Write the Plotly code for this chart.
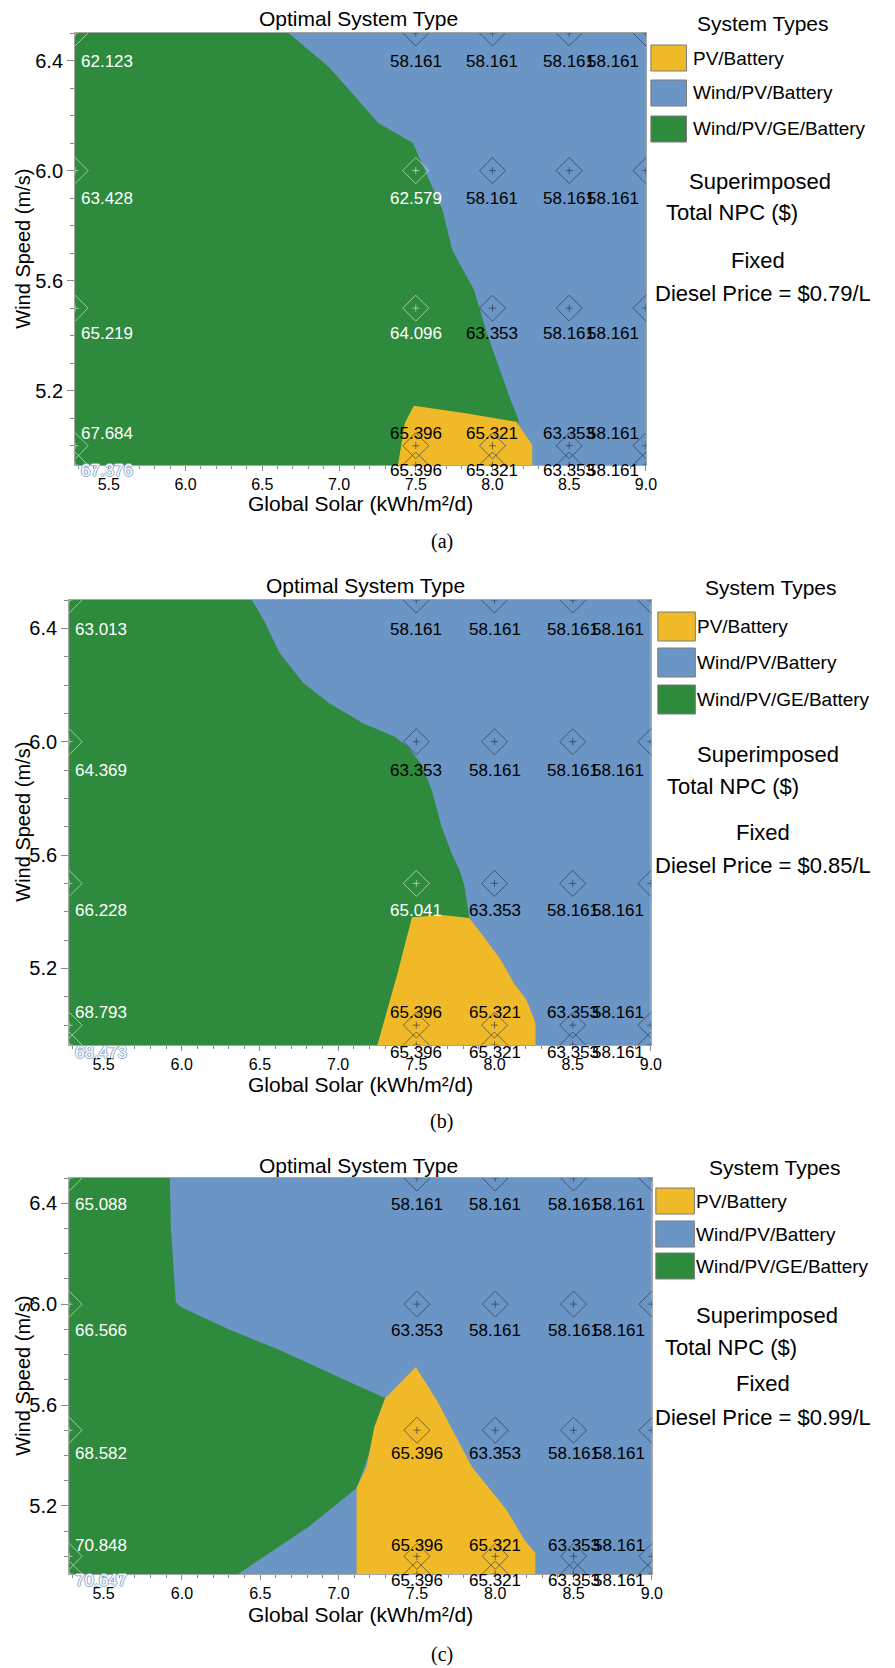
import plotly.graph_objects as go

W, H = 895, 1668

# ---------------- data ----------------
# sensitivity grid (columns: global solar, rows: wind speed)
solar = [5.28, 7.5, 8.0, 8.5, 9.0]
wind = [6.5, 6.0, 5.5, 5.0, 4.93]
solar_ticks = [5.5, 6.0, 6.5, 7.0, 7.5, 8.0, 8.5, 9.0]
wind_ticks = [5.2, 5.6, 6.0, 6.4]

system_types = ["PV/Battery", "Wind/PV/Battery", "Wind/PV/GE/Battery"]
system_colors = ["#F0B928", "#6A95C4", "#2E8A3C"]

diesel_prices = ["$0.79/L", "$0.85/L", "$0.99/L"]
captions = ["(a)", "(b)", "(c)"]

# superimposed total NPC at each grid point (rows follow `wind`, columns follow `solar`)
npc_a = [
    [62.123, 58.161, 58.161, 58.161, 58.161],
    [63.428, 62.579, 58.161, 58.161, 58.161],
    [65.219, 64.096, 63.353, 58.161, 58.161],
    [67.684, 65.396, 65.321, 63.353, 58.161],
    [67.376, 65.396, 65.321, 63.353, 58.161],
]
npc_b = [
    [63.013, 58.161, 58.161, 58.161, 58.161],
    [64.369, 63.353, 58.161, 58.161, 58.161],
    [66.228, 65.041, 63.353, 58.161, 58.161],
    [68.793, 65.396, 65.321, 63.353, 58.161],
    [68.473, 65.396, 65.321, 63.353, 58.161],
]
npc_c = [
    [65.088, 58.161, 58.161, 58.161, 58.161],
    [66.566, 63.353, 58.161, 58.161, 58.161],
    [68.582, 65.396, 63.353, 58.161, 58.161],
    [70.848, 65.396, 65.321, 63.353, 58.161],
    [70.647, 65.396, 65.321, 63.353, 58.161],
]

# optimal system at each grid point: P = PV/Battery, W = Wind/PV/Battery, G = Wind/PV/GE/Battery
type_a = ["GWWWW", "GGWWW", "GGWWW", "GPPWW", "GPPWW"]
type_b = ["GWWWW", "GWWWW", "GGWWW", "GPPWW", "GPPWW"]
type_c = ["GWWWW", "GWWWW", "GPWWW", "GPPWW", "GPPWW"]

# region boundaries (solar, wind)
green_a_x = [5.28, 6.67, 6.934, 7.256, 7.481, 7.577, 7.674, 7.738, 7.88, 7.963, 8.054, 8.118, 8.169, 8.169, 5.28]
green_a_y = [6.5, 6.5, 6.376, 6.173, 6.10, 5.977, 5.857, 5.711, 5.566, 5.41, 5.265, 5.166, 5.094, 4.93, 4.93]
yellow_a_x = [7.384, 7.429, 7.487, 7.687, 7.815, 8.156, 8.259, 8.259]
yellow_a_y = [4.93, 5.083, 5.145, 5.13, 5.119, 5.087, 5.003, 4.93]

green_b_x = [5.28, 6.449, 6.524, 6.626, 6.777, 6.941, 7.156, 7.365, 7.447, 7.535, 7.598, 7.662, 7.725, 7.775, 7.807, 7.838, 7.838, 5.28]
green_b_y = [6.5, 6.5, 6.429, 6.313, 6.207, 6.137, 6.066, 6.017, 5.981, 5.918, 5.83, 5.699, 5.607, 5.547, 5.494, 5.378, 4.93, 4.93]
yellow_b_x = [7.251, 7.314, 7.377, 7.472, 7.662, 7.838, 7.933, 8.041, 8.123, 8.205, 8.262, 8.262]
yellow_b_y = [4.93, 5.053, 5.177, 5.381, 5.389, 5.378, 5.311, 5.23, 5.149, 5.089, 5.007, 4.93]

green_c_x = [5.28, 5.923, 5.929, 5.942, 5.961, 5.992, 6.308, 6.623, 6.938, 7.153, 7.298, 7.254, 7.203, 7.146, 7.115, 6.806, 6.358, 5.28]
green_c_y = [6.5, 6.5, 6.306, 6.175, 6.008, 5.989, 5.897, 5.818, 5.727, 5.667, 5.628, 5.552, 5.421, 5.322, 5.271, 5.116, 4.93, 4.93]
yellow_c_x = [7.115, 7.115, 7.178, 7.228, 7.298, 7.493, 7.626, 7.726, 7.852, 8.073, 8.187, 8.256, 8.256]
yellow_c_y = [4.93, 5.271, 5.354, 5.513, 5.628, 5.751, 5.62, 5.501, 5.354, 5.184, 5.065, 5.013, 4.93]

npc_sets = [npc_a, npc_b, npc_c]
type_sets = [type_a, type_b, type_c]
green_sets = [(green_a_x, green_a_y), (green_b_x, green_b_y), (green_c_x, green_c_y)]
yellow_sets = [(yellow_a_x, yellow_a_y), (yellow_b_x, yellow_b_y), (yellow_c_x, yellow_c_y)]

# ---------------- layout (pixel positions of each panel) ----------------
panels = [
    dict(box=(76, 33, 654, 465), title=(363, 18), xtitle=(365, 503), ytitle=(23, 249), caption=(447, 541),
         head=(772, 23), sw_x=(659, 695), sw_rows=[45, 80, 116], sw_h=26, lab_x=700,
         notes=[(769, 182), (741, 213), (767, 260), (772, 293)], shifts=[-29, -28, -25, 12, -5]),
    dict(box=(70, 600, 659, 1045), title=(370, 585), xtitle=(365, 1084), ytitle=(23, 822), caption=(447, 1121),
         head=(781, 587), sw_x=(666, 704), sw_rows=[612, 648, 685], sw_h=29, lab_x=704,
         notes=[(778, 754), (742, 787), (773, 832), (772, 865)], shifts=[-29, -29, -27, 13, -7]),
    dict(box=(70, 1178, 660, 1574), title=(363, 1165), xtitle=(365, 1614), ytitle=(23, 1376), caption=(447, 1654),
         head=(785, 1167), sw_x=(664, 703), sw_rows=[1188, 1221, 1253], sw_h=26, lab_x=703,
         notes=[(777, 1315), (740, 1347), (772, 1383), (772, 1417)], shifts=[-26, -26, -23, 11, -6]),
]

SANS = "Liberation Sans, Arial, sans-serif"


def px(x):
    return x / W


def py(y):
    return 1 - y / H


fig = go.Figure()
annotations = []
shapes = []

for i, spec in enumerate(panels):
    n = "" if i == 0 else str(i + 1)
    xa, ya = "x" + n, "y" + n
    common = dict(xaxis=xa, yaxis=ya, hoverinfo="skip", showlegend=False)

    # base region: Wind/PV/Battery everywhere, then overlay the other system types
    x_lo, x_hi, y_lo, y_hi = min(solar), max(solar), min(wind), max(wind)
    fig.add_trace(go.Scatter(x=[x_lo, x_hi, x_hi, x_lo], y=[y_lo, y_lo, y_hi, y_hi], fill="toself",
                             fillcolor=system_colors[1], mode="lines", line=dict(width=0), **common))
    gx, gy = green_sets[i]
    fig.add_trace(go.Scatter(x=gx, y=gy, fill="toself", fillcolor=system_colors[2], mode="lines",
                             line=dict(width=0), **common))
    yx, yy = yellow_sets[i]
    fig.add_trace(go.Scatter(x=yx, y=yy, fill="toself", fillcolor=system_colors[0], mode="lines",
                             line=dict(width=0), **common))

    # sensitivity grid markers
    mx, my, mc = [], [], []
    for r, wv in enumerate(wind):
        for c, sv in enumerate(solar):
            mx.append(sv)
            my.append(wv)
            mc.append("rgba(235,245,235,0.6)" if type_sets[i][r][c] == "G" else "rgba(35,45,70,0.6)")
    fig.add_trace(go.Scatter(x=mx, y=my, mode="markers",
                             marker=dict(symbol="diamond-open", size=20, color=mc, line=dict(width=1)), **common))
    fig.add_trace(go.Scatter(x=mx, y=my, mode="markers",
                             marker=dict(symbol="cross-thin-open", size=5, color=mc, line=dict(width=1)), **common))

    # NPC labels
    for r, wv in enumerate(wind):
        for c, sv in enumerate(solar):
            code = type_sets[i][r][c]
            if c == 0:
                anchor, xs = "left", 4
            elif c == len(solar) - 1:
                anchor, xs = "right", -5
            else:
                anchor, xs = "center", 0
            font = dict(family=SANS, size=17, color="white" if code == "G" else "black")
            if r == len(wind) - 1 and c == 0:
                font = dict(family=SANS, size=17, color="white",
                            shadow="1px 0 0 #8ea8cf, -1px 0 0 #8ea8cf, 0 1px 0 #8ea8cf, 0 -1px 0 #8ea8cf")
            annotations.append(dict(x=sv, y=wv, xref=xa, yref=ya, text=f"{npc_sets[i][r][c]:.3f}",
                                    showarrow=False, xanchor=anchor, yanchor="middle",
                                    xshift=xs, yshift=spec["shifts"][r], font=font))

    # axes
    x0, y0, x1, y1 = spec["box"]
    axis_style = dict(showline=True, linecolor="#a5a5a5", linewidth=1, mirror=True, ticks="outside",
                      tickcolor="#8a8a8a", showgrid=False, zeroline=False, fixedrange=True)
    fig.layout["xaxis" + n] = dict(
        domain=[px(x0), px(x1)], range=[x_lo, x_hi], anchor=ya, tickvals=solar_ticks, tickformat=".1f",
        ticklen=5, tickfont=dict(family=SANS, size=16, color="black"),
        minor=dict(tickmode="linear", tick0=5.0, dtick=0.1, ticklen=3, ticks="outside", tickcolor="#8a8a8a"),
        **axis_style)
    fig.layout["yaxis" + n] = dict(
        domain=[py(y1), py(y0)], range=[y_lo, y_hi], anchor=xa, tickvals=wind_ticks, tickformat=".1f",
        ticklen=7, tickfont=dict(family=SANS, size=20, color="black"),
        minor=dict(tickmode="linear", tick0=5.0, dtick=0.1, ticklen=4, ticks="outside", tickcolor="#8a8a8a"),
        **axis_style)

    # titles
    def txt(text, x, y, size, family=SANS, anchor="center", angle=0):
        annotations.append(dict(x=px(x), y=py(y), xref="paper", yref="paper", text=text, showarrow=False,
                                xanchor=anchor, yanchor="middle", textangle=angle,
                                font=dict(family=family, size=size, color="black")))

    txt("Optimal System Type", *spec["title"], 21)
    txt("Global Solar (kWh/m²/d)", *spec["xtitle"], 21)
    txt("Wind Speed (m/s)", *spec["ytitle"], 20, angle=-90)
    txt(captions[i], *spec["caption"], 20, family="Liberation Serif, DejaVu Serif, serif")

    # system type key
    txt("System Types", *spec["head"], 21)
    for k, name in enumerate(system_types):
        top = spec["sw_rows"][k]
        shapes.append(dict(type="rect", xref="paper", yref="paper",
                           x0=px(spec["sw_x"][0]), x1=px(spec["sw_x"][1]),
                           y0=py(top + spec["sw_h"]), y1=py(top),
                           fillcolor=system_colors[k], line=dict(color="#7a7a7a", width=1)))
        txt(name, spec["lab_x"], top + spec["sw_h"] / 2, 19, anchor="left")
    notes = ["Superimposed", "Total NPC ($)", "Fixed", f"Diesel Price = {diesel_prices[i]}"]
    for text, (nx, ny) in zip(notes, spec["notes"]):
        txt(text, nx, ny, 22)

fig.update_layout(
    width=W, height=H, margin=dict(l=0, r=0, t=0, b=0),
    paper_bgcolor="white", plot_bgcolor="white", showlegend=False,
    annotations=annotations, shapes=shapes,
)

fig.write_html("out.html")
